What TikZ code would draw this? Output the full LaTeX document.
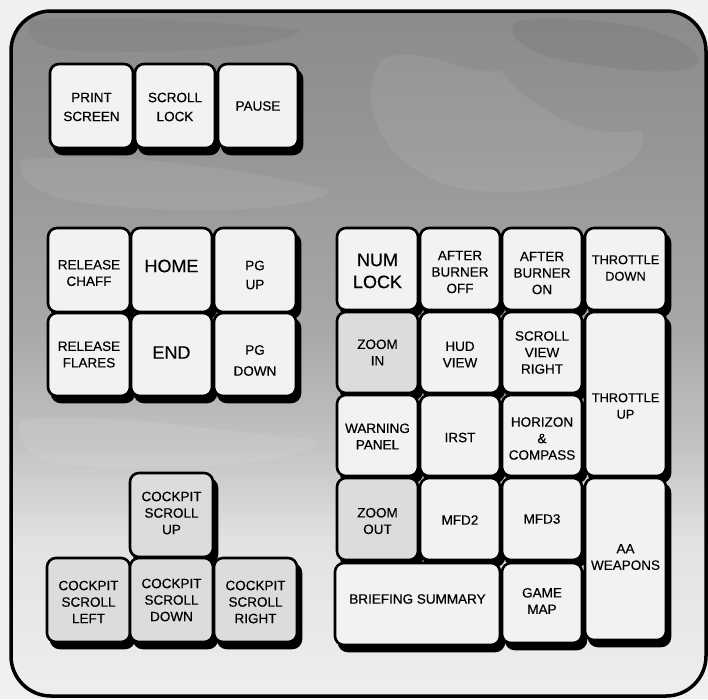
\documentclass[tikz,border=0pt]{standalone}
\usepackage{fontspec}
\setmainfont{Liberation Sans}
\newfontfamily\keyfont[FakeBold=0.3]{Liberation Sans}
\definecolor{outbg}{HTML}{F0F0F0}
\definecolor{keyfill}{HTML}{F2F2F2}
\definecolor{keygray}{HTML}{DCDCDC}
\definecolor{bgA}{HTML}{8A8A8A}
\definecolor{bgB}{HTML}{969696}
\definecolor{bgC}{HTML}{A8A8A8}
\definecolor{bgD}{HTML}{C4C4C4}
\definecolor{bgE}{HTML}{E2E2E2}
\definecolor{bgF}{HTML}{EEEEEE}
\tikzset{
  keyshadow/.style={fill=black, draw=black, line width=2.6pt, rounded corners=9pt, inner sep=0pt, outer sep=0pt},
  keyface/.style={draw=black, line width=2.6pt, fill=keyfill, rounded corners=9pt, inner sep=0pt, outer sep=0pt},
  keydark/.style={keyface, fill=keygray},
  lbl/.style={font=\keyfont\fontsize{13.5}{16.5}\selectfont, align=center, inner sep=0pt},
  lblw/.style={font=\keyfont\fontsize{13.5}{19}\selectfont, align=center, inner sep=0pt},
  lblpg/.style={font=\keyfont\fontsize{13.5}{21}\selectfont, align=center, inner sep=0pt},
  lblt/.style={font=\keyfont\fontsize{12.8}{16.5}\selectfont, align=center, inner sep=0pt},
  big/.style={font=\keyfont\fontsize{18}{22}\selectfont, align=center, inner sep=0pt},
}
\newcommand\shadowkey[9]{%
  \pgfmathsetmacro\kw{#4-#2}\pgfmathsetmacro\kh{#5-#3}%
  \pgfmathsetmacro\kcx{(#2+#4)/2}\pgfmathsetmacro\kcy{(#3+#5)/2}%
  \node[keyshadow, minimum width=\kw pt, minimum height=\kh pt] (s#1) at (\kcx+4,\kcy+6) {};%
}
\newcommand\facekey[9]{%
  \pgfmathsetmacro\kw{#4-#2}\pgfmathsetmacro\kh{#5-#3}%
  \pgfmathsetmacro\kcx{(#2+#4)/2}\pgfmathsetmacro\kcy{(#3+#5)/2}%
  \node[#6, minimum width=\kw pt, minimum height=\kh pt] (#1) at (\kcx,\kcy) {};%
  \node[#7] (t#1) at (\kcx,\kcy+#8) {#9};%
}
\newcommand\keylist{%
  % top row
  \kk{prt}{50}{64}{133}{148}{keyface}{lblw}{1}{PRINT\\SCREEN}
  \kk{scl}{135}{64}{215}{148}{keyface}{lblw}{1}{SCROLL\\LOCK}
  \kk{pau}{218}{64}{298}{148}{keyface}{lbl}{0}{PAUSE}
  % middle left
  \kk{rch}{48}{228}{130}{312}{keyface}{lbl}{3}{RELEASE\\CHAFF}
  \kk{hom}{131}{228}{212}{312}{keyface}{big}{-4}{HOME}
  \kk{pgu}{214}{228}{296}{312}{keyface}{lblw}{5}{PG\\UP}
  \kk{rfl}{48}{313}{130}{396}{keyface}{lbl}{0}{RELEASE\\FLARES}
  \kk{end}{131}{313}{212}{396}{keyface}{big}{-2}{END}
  \kk{pgd}{214}{313}{296}{396}{keyface}{lblpg}{6}{PG\\DOWN}
  % right block
  \kk{num}{337}{228}{418}{310}{keyface}{big}{2}{NUM\\LOCK}
  \kk{abf}{420}{228}{500}{310}{keyface}{lbl}{3}{AFTER\\BURNER\\OFF}
  \kk{abn}{502}{228}{582}{310}{keyface}{lbl}{4}{AFTER\\BURNER\\ON}
  \kk{thd}{585}{228}{666}{310}{keyface}{lblt}{-1}{THROTTLE\\DOWN}
  \kk{zin}{337}{312}{418}{393}{keydark}{lbl}{0}{ZOOM\\IN}
  \kk{hud}{420}{312}{500}{393}{keyface}{lbl}{2}{HUD\\VIEW}
  \kk{svr}{502}{312}{582}{393}{keyface}{lbl}{0}{SCROLL\\VIEW\\RIGHT}
  \kk{thu}{585}{312}{666}{476}{keyface}{lblt}{12}{THROTTLE\\UP}
  \kk{wrn}{337}{395}{418}{476}{keyface}{lbl}{1}{WARNING\\PANEL}
  \kk{irs}{420}{395}{500}{476}{keyface}{lbl}{2}{IRST}
  \kk{hor}{502}{395}{582}{476}{keyface}{lbl}{3}{HORIZON\\\&\\COMPASS}
  \kk{zou}{337}{478}{418}{560}{keydark}{lbl}{2}{ZOOM\\OUT}
  \kk{mf2}{420}{478}{500}{560}{keyface}{lbl}{1}{MFD2}
  \kk{mf3}{502}{478}{582}{560}{keyface}{lbl}{0}{MFD3}
  \kk{aaw}{585}{478}{666}{640}{keyface}{lbl}{-2}{AA\\WEAPONS}
  \kk{brf}{335}{563}{500}{645}{keyface}{lbl}{-5}{BRIEFING SUMMARY}
  \kk{gmp}{502}{563}{582}{643}{keyface}{lbl}{-2}{GAME\\MAP}
  % cockpit cluster
  \kk{cup}{130}{473}{213}{557}{keydark}{lbl}{-2}{COCKPIT\\SCROLL\\UP}
  \kk{clf}{47}{558}{130}{642}{keydark}{lbl}{2}{COCKPIT\\SCROLL\\LEFT}
  \kk{cdn}{130}{558}{213}{642}{keydark}{lbl}{0}{COCKPIT\\SCROLL\\DOWN}
  \kk{crt}{214}{558}{297}{642}{keydark}{lbl}{2}{COCKPIT\\SCROLL\\RIGHT}
}
\begin{document}
\begin{tikzpicture}[x=1pt, y=-1pt]
  \useasboundingbox (0,0) rectangle (708,699);
  \fill[outbg] (0,0) rectangle (708,699);
  % panel background
  \begin{scope}
    \clip[rounded corners=40pt] (11,11) rectangle (706,696);
    \shade[top color=bgA, bottom color=bgB] (0,0) rectangle (708,151);
    \shade[top color=bgB, bottom color=bgC] (0,150) rectangle (708,331);
    \shade[top color=bgC, bottom color=bgD] (0,330) rectangle (708,451);
    \shade[top color=bgD, bottom color=bgE] (0,450) rectangle (708,541);
    \shade[top color=bgE, bottom color=bgF] (0,540) rectangle (708,699);
    % mottled texture
    \fill[white, opacity=0.07] (380,60) .. controls (420,40) and (470,80) .. (500,70) .. controls (540,120) and (600,140) .. (640,130) .. controls (660,170) and (560,200) .. (470,190) .. controls (400,180) and (350,120) .. (380,60);
    \fill[black, opacity=0.05] (520,20) .. controls (600,15) and (690,30) .. (700,60) .. controls (690,80) and (620,70) .. (560,60) .. controls (520,50) and (500,30) .. (520,20);
    \fill[white, opacity=0.07] (20,160) .. controls (120,150) and (250,170) .. (330,190) .. controls (320,210) and (200,215) .. (100,205) .. controls (50,200) and (15,185) .. (20,160);
    \fill[black, opacity=0.04] (30,20) .. controls (100,15) and (200,20) .. (300,30) .. controls (280,50) and (150,55) .. (60,50) .. controls (35,45) and (25,35) .. (30,20);
    \fill[white, opacity=0.08] (20,420) .. controls (100,410) and (200,430) .. (320,440) .. controls (300,470) and (150,470) .. (60,465) .. controls (30,460) and (15,440) .. (20,420);
  \end{scope}
  \draw[line width=3.5pt, rounded corners=40pt] (11,11) rectangle (706,696);
  % keys: shadows first, then faces
  \let\kk\shadowkey
  \keylist
  \let\kk\facekey
  \keylist
\end{tikzpicture}
\end{document}
